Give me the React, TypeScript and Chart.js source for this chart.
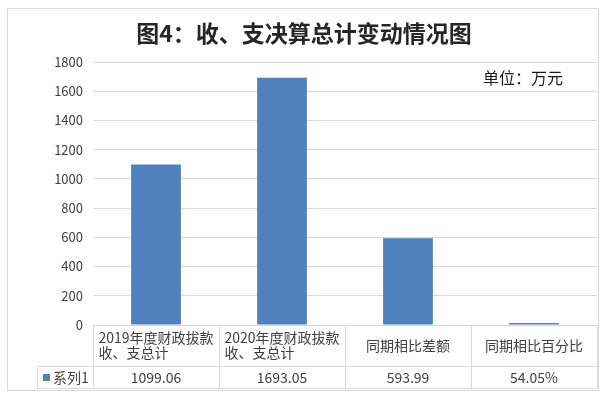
import React, { useEffect, useRef } from "react";
import { Chart, registerables } from "chart.js";

Chart.register(...registerables);

const chartTitle = "图4：收、支决算总计变动情况图";
const unitLabel = "单位：万元";
const seriesName = "系列1";
const categories: string[][] = [
  ["2019年度财政拔款", "收、支总计"],
  ["2020年度财政拔款", "收、支总计"],
  ["同期相比差额"],
  ["同期相比百分比"],
];
const values = [1099.06, 1693.05, 593.99, 0.5405];
const valueLabels = ["1099.06", "1693.05", "593.99", "54.05%"];
const yMin = 0;
const yMax = 1800;
const yStep = 200;

const BAR_COLOR = "#4F81BD";
const LINE_COLOR = "#d9d9d9";
const FONT = '"Noto Sans CJK SC", "Noto Sans", sans-serif';

const tablePlugin = {
  id: "dataTablePlugin",
  afterDraw(chart: any) {
    const { ctx, chartArea, scales } = chart;
    const xs = scales.x;
    const left = chartArea.left;
    const right = chartArea.right;
    const top = chartArea.bottom;
    const headerBottom = top + 41;
    const rowBottom = headerBottom + 22;
    const legendLeft = 37;
    const n = categories.length;
    const al = (v: number) => Math.round(v) + 0.5;

    ctx.save();
    ctx.strokeStyle = LINE_COLOR;
    ctx.lineWidth = 1;
    ctx.strokeRect(7.5, 8.5, 591, 382);

    const bounds: number[] = [];
    for (let i = 0; i <= n; i++) {
      if (i === 0) bounds.push(left);
      else if (i === n) bounds.push(right);
      else bounds.push((xs.getPixelForValue(i - 1) + xs.getPixelForValue(i)) / 2);
    }
    ctx.beginPath();
    bounds.forEach((bx) => {
      ctx.moveTo(al(bx), top);
      ctx.lineTo(al(bx), rowBottom);
    });
    ctx.moveTo(legendLeft, al(headerBottom));
    ctx.lineTo(right, al(headerBottom));
    ctx.moveTo(legendLeft, al(rowBottom));
    ctx.lineTo(right, al(rowBottom));
    ctx.moveTo(al(legendLeft), headerBottom);
    ctx.lineTo(al(legendLeft), rowBottom);
    ctx.stroke();

    ctx.fillStyle = "#404040";
    ctx.font = `14px ${FONT}`;
    ctx.textBaseline = "middle";
    const headerMid = (top + headerBottom) / 2;
    const lh = 15;
    categories.forEach((lines, i) => {
      const cx = xs.getPixelForValue(i);
      const maxW = Math.max(...lines.map((l) => ctx.measureText(l).width));
      ctx.textAlign = "left";
      const startY = headerMid - ((lines.length - 1) * lh) / 2;
      lines.forEach((l, j) => {
        ctx.fillText(l, cx - maxW / 2, startY + j * lh);
      });
    });

    const rowMid = (headerBottom + rowBottom) / 2 + 0.5;
    ctx.textAlign = "center";
    valueLabels.forEach((v, i) => {
      ctx.fillText(v, xs.getPixelForValue(i), rowMid);
    });

    ctx.fillStyle = BAR_COLOR;
    ctx.fillRect(43, Math.round(rowMid) - 4, 7, 7);
    ctx.fillStyle = "#404040";
    ctx.textAlign = "left";
    ctx.fillText(seriesName, 53, rowMid);

    ctx.fillStyle = "#262626";
    ctx.font = `bold 23px ${FONT}`;
    ctx.textAlign = "center";
    ctx.fillText(chartTitle, 304, 33);

    ctx.fillStyle = "#1a1a1a";
    ctx.font = `16px ${FONT}`;
    ctx.textAlign = "left";
    ctx.fillText(unitLabel, 483, 78);
    ctx.restore();
  },
};

export default function App() {
  const ref = useRef<HTMLCanvasElement | null>(null);
  useEffect(() => {
    document.body.style.margin = "0";
    if (!ref.current) return;
    const chart = new Chart(ref.current, {
      type: "bar",
      data: {
        labels: categories.map((c) => c.join("")),
        datasets: [
          {
            label: seriesName,
            data: values,
            backgroundColor: BAR_COLOR,
            borderWidth: 0,
            categoryPercentage: 1,
            barPercentage: 0.395,
            minBarLength: 2,
          },
        ],
      },
      options: {
        responsive: false,
        animation: false,
        devicePixelRatio: 1,
        layout: { padding: { top: 62, left: 0, right: 12, bottom: 70 } },
        plugins: {
          legend: { display: false },
          title: { display: false },
          tooltip: { enabled: false },
        },
        scales: {
          x: { display: false },
          y: {
            min: yMin,
            max: yMax,
            ticks: {
              stepSize: yStep,
              color: "#404040",
              font: { family: FONT, size: 13 },
              padding: 10,
              callback: (v: any) => String(v),
            },
            grid: { color: LINE_COLOR, drawTicks: false },
            border: { display: false },
            afterFit: (scale: any) => {
              scale.width = 93;
            },
          },
        },
      },
      plugins: [tablePlugin],
    });
    return () => chart.destroy();
  }, []);
  return (
    <div style={{ position: "absolute", left: 0, top: 0 }}>
      <canvas ref={ref} width={609} height={395} style={{ width: 609, height: 395 }} />
    </div>
  );
}
